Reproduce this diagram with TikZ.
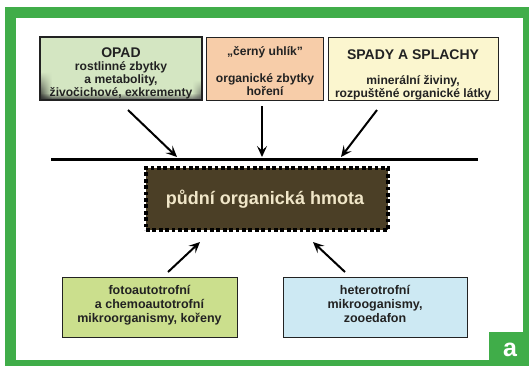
\documentclass[tikz,border=0pt]{standalone}
\usepackage{fontspec}
\setmainfont{Liberation Sans}
\usetikzlibrary{arrows.meta,fadings}

\definecolor{framegreen}{HTML}{40AD49}
\definecolor{opadgreen}{HTML}{D4E6C2}
\definecolor{peach}{HTML}{F7CDA9}
\definecolor{paleyellow}{HTML}{FBF6CF}
\definecolor{yellowgreen}{HTML}{CBDF8D}
\definecolor{paleblue}{HTML}{CDE9F3}
\definecolor{humus}{HTML}{4B3F26}
\definecolor{cream}{HTML}{F0E6C8}
\definecolor{inkgray}{HTML}{222222}

\tikzset{
  box/.style={draw=inkgray, line width=1.4pt, rectangle, inner sep=0pt, anchor=north west},
  boxtext/.style={align=center, inner sep=0pt, anchor=base, text=inkgray,
    font=\fontsize{12.1}{13}\selectfont\bfseries},
  lowtext/.style={boxtext, font=\fontsize{12.5}{14}\selectfont\bfseries},
  flow/.style={line width=2pt, -{Stealth[length=11pt,width=10pt,inset=4.5pt]}},
}

\begin{document}
\begin{tikzpicture}[x=1pt,y=-1pt]
  \useasboundingbox (0,0) rectangle (529,365);

  % green frame
  \fill[framegreen] (5,7) rectangle (535,371);
  \fill[white] (16,18) rectangle (523,360);
  \fill[framegreen] (489,332) rectangle (535,371);
  \node[text=white, font=\fontsize{25}{25}\selectfont\bfseries] (tag) at (510,350) {a};

  % upper sources
  \node[box, fill=opadgreen, minimum width=162pt, minimum height=63pt] (opad) at (40,37) {};
  \begin{scope}
    \clip (40,37) rectangle (202,100);
    \shade[left color=black!85, right color=opadgreen, path fading=north] (40,72) rectangle (52,100);
    \shade[right color=black!70, left color=opadgreen, path fading=north] (192,80) rectangle (202,100);
    \shade[left color=black!80, middle color=opadgreen, right color=black!60, path fading=north] (40,93) rectangle (202,100);
  \end{scope}
  \draw[inkgray, line width=1.4pt] (40,37) rectangle (202,100);
  \node[box, fill=peach, minimum width=117pt, minimum height=63pt] (uhlik) at (206,37) {};
  \node[box, fill=paleyellow, minimum width=170pt, minimum height=63pt] (spady) at (328,37) {};

  % multi-line labels are anchored at the baseline of their last line
  \node[boxtext] (opadt) at (121,96)
    {{\fontsize{14}{14}\selectfont OPAD}\\rostlinné zbytky\\a metabolity,\\živočichové, exkrementy};
  \node[boxtext] (uhlikt) at (265,95)
    {„černý uhlík"\\[14pt]organické zbytky\\hoření};
  \node[boxtext] (spadyt) at (413,97)
    {{\fontsize{14}{14}\selectfont SPADY A SPLACHY}\\[11.5pt]minerální živiny,\\rozpuštěné organické látky};

  % soil surface
  \coordinate (sl) at (51,159);
  \coordinate (sr) at (478,159);
  \draw[line width=3pt] (sl) -- (sr);
  \coordinate (inA) at (177,157);
  \coordinate (inB) at (262,157);
  \coordinate (inC) at (341,157);
  \coordinate (fromA) at (128,110);
  \coordinate (fromB) at (262,106);
  \coordinate (fromC) at (377,110);
  \draw[flow] (fromA) -- (inA);
  \draw[flow] (fromB) -- (inB);
  \draw[flow] (fromC) -- (inC);

  % soil organic matter
  \node[box, fill=humus, draw=black, line width=3.8pt, dash pattern=on 3.8pt off 2.6pt,
        minimum width=242pt, minimum height=62pt] (som) at (144,166) {};
  \node[text=cream, font=\fontsize{18}{18}\selectfont\bfseries, anchor=base, inner sep=0pt]
    (somt) at (265,204) {půdní organická hmota};

  % organisms
  \node[box, fill=yellowgreen, minimum width=175pt, minimum height=60pt] (auto) at (62,277) {};
  \node[box, fill=paleblue, minimum width=184pt, minimum height=60pt] (hetero) at (283,277) {};
  \node[lowtext] (autot) at (149.5,322)
    {fotoautotrofní\\a chemoautotrofní\\mikroorganismy, kořeny};
  \node[lowtext] (heterot) at (375,322)
    {heterotrofní\\mikrooganismy,\\zooedafon};

  \coordinate (toA) at (200,242);
  \coordinate (toB) at (313,242);
  \coordinate (upA) at (168,272);
  \coordinate (upB) at (345,272);
  \draw[flow] (upA) -- (toA);
  \draw[flow] (upB) -- (toB);
\end{tikzpicture}
\end{document}
